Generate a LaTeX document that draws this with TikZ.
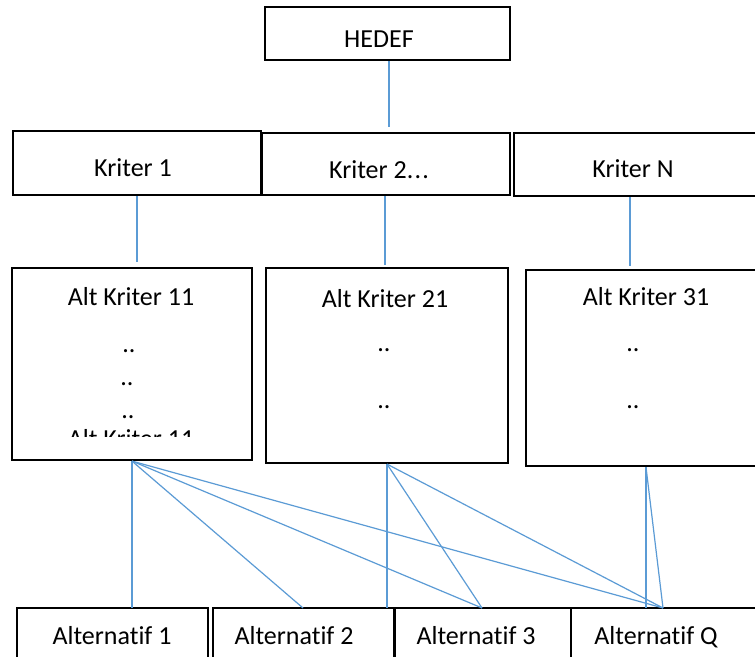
\documentclass[tikz,border=0pt]{standalone}
\usepackage{fontspec}
\setmainfont{Carlito}[RawFeature={-liga;-clig;-calt;-dlig}]
\usetikzlibrary{fit}
\definecolor{linkblue}{RGB}{91,155,213}
\newcommand{\altn}[1]{Alternat\kern0pt if #1}
\tikzset{
  box/.style={draw=black, line width=1.1pt, inner sep=0pt, fill=none},
  txt/.style={anchor=base, inner sep=0pt, font=\fontsize{13}{15}\selectfont},
  conn/.style={draw=linkblue, line width=0.6pt},
}
\begin{document}
\begin{tikzpicture}[x=0.5pt, y=-0.5pt]
\clip (0,0) rectangle (755,657);
\fill[white] (0,0) rectangle (755,657);
% boxes
\node[box, fit={(265,7) (510,60)}] (hedef) {};
\node[box, fit={(13,131) (261,195)}] (k1) {};
\node[box, fit={(262,133) (510,195)}] (k2) {};
\node[box, fit={(514,133) (758,196)}] (kn) {};
\node[box, fit={(12,268) (252,460)}] (a11) {};
\node[box, fit={(266,268) (508,463)}] (a21) {};
\node[box, fit={(526,270) (766,466)}] (a31) {};
\node[box, fit={(17,608) (208,660)}] (alt1) {};
\node[box, fit={(213,608) (394,660)}] (alt2) {};
\node[box, fit={(395,608) (571,660)}] (alt3) {};
\node[box, fit={(571,608) (770,660)}] (altq) {};
% texts
\node[txt] (thedef) at (379,48) {HEDEF};
\node[txt] (tk1) at (133,177) {Kriter 1};
\node[txt] (tk2) at (379,179) {Kriter 2.\kern0.6pt.\kern0.6pt.};
\node[txt] (tkn) at (633,178) {Kriter N};
\node[txt] (ta11) at (131,306) {Alt Kriter 11};
\node[txt] (d11a) at (129,353) {..};
\node[txt] (d11b) at (127,386) {..};
\node[txt] (d11c) at (128,419) {..};
\begin{scope}
  \clip (14,420) rectangle (250,437);
  \node[txt] (ta11b) at (131,448) {Alt Kriter 11};
\end{scope}
\node[txt] (ta21) at (385,308) {Alt Kriter 21};
\node[txt] (d21a) at (384,352) {..};
\node[txt] (d21b) at (384,409) {..};
\node[txt] (ta31) at (646,306) {Alt Kriter 31};
\node[txt] (d31a) at (633,352) {..};
\node[txt] (d31b) at (633,409) {..};
\node[txt] (talt1) at (112,644) {\altn{1}};
\node[txt] (talt2) at (294,644) {\altn{2}};
\node[txt] (talt3) at (476,644) {\altn{3}};
\node[txt] (taltq) at (656,644) {\altn{Q}};
% upper connectors
\coordinate (hk) at (389,127);
\draw[conn] (hedef.south -| hk) -- (hk);
\coordinate (k1a) at (137,262);
\draw[conn] (k1.south -| k1a) -- (k1a);
\coordinate (k2a) at (385,265);
\draw[conn] (k2.south -| k2a) -- (k2a);
\coordinate (kna) at (630,266);
\draw[conn] (kn.south -| kna) -- (kna);
% lower connectors
\coordinate (t1) at (132,608);
\coordinate (t2) at (303,608);
\coordinate (t2b) at (387,608);
\coordinate (t3) at (482,608);
\coordinate (tqb) at (646,608);
\coordinate (tq) at (663,608);
\draw[conn] (a11.south) -- (t1);
\draw[conn] (a11.south) -- (t2);
\draw[conn] (a11.south) -- (t3);
\draw[conn] (a11.south) -- (tq);
\draw[conn] (a21.south) -- (t2b);
\draw[conn] (a21.south) -- (t3);
\draw[conn] (a21.south) -- (tq);
\draw[conn] (a31.south) -- (tqb);
\draw[conn] (a31.south) -- (tq);
\end{tikzpicture}
\end{document}
